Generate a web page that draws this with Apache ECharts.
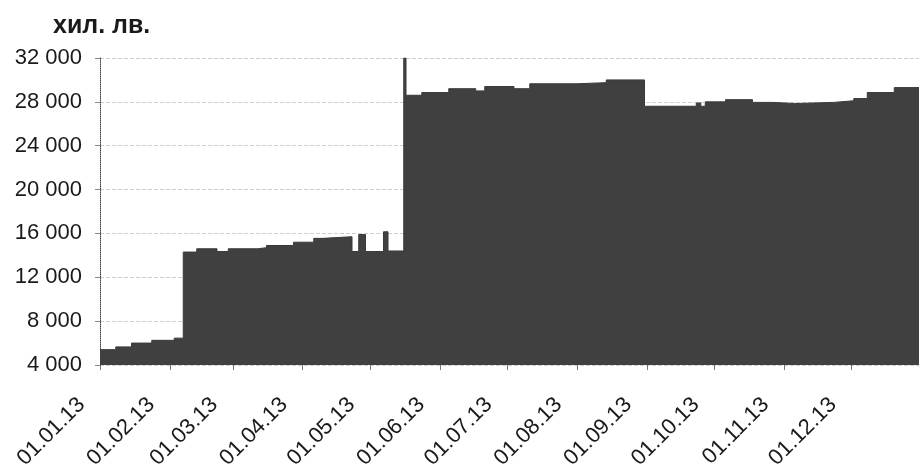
<!DOCTYPE html>
<html>
<head>
<meta charset="utf-8">
<script src="https://cdn.jsdelivr.net/npm/echarts@6/dist/echarts.min.js"></script>
<style>
  html, body { margin: 0; padding: 0; background: #fff; }
  #chart { width: 919px; height: 473px; }
</style>
</head>
<body>
<div id="chart"></div>
<script>
// дати на промяна на стойността (стъпки)
const dates = [
  '2013-01-01', '2013-01-08', '2013-01-15', '2013-01-24', '2013-02-03',
  '2013-02-07', '2013-02-13', '2013-02-22', '2013-02-27', '2013-03-12',
  '2013-03-16', '2013-03-28', '2013-04-06', '2013-04-10', '2013-04-23',
  '2013-04-26', '2013-04-29', '2013-05-07', '2013-05-09', '2013-05-16',
  '2013-05-17', '2013-05-24', '2013-06-05', '2013-06-17', '2013-06-21',
  '2013-07-04', '2013-07-11', '2013-08-01', '2013-08-14', '2013-08-31',
  '2013-09-23', '2013-09-25', '2013-09-27', '2013-10-06', '2013-10-18',
  '2013-10-27', '2013-11-06', '2013-11-23', '2013-12-02', '2013-12-08',
  '2013-12-20', '2013-12-31'
];

// хил. лв.
const values = [
  5400, 5650, 6000, 6250, 6450,
  14300, 14600, 14350, 14600, 14700,
  14900, 15200, 15550, 15700, 14350,
  15900, 14350, 16150, 14400, 32000,
  28600, 28850, 29200, 29000, 29400,
  29200, 29650, 29750, 30000, 27600,
  27900, 27600, 28000, 28200, 27950,
  27850, 27950, 28100, 28300, 28850,
  29300, 29300
];

const yTicks = [4000, 8000, 12000, 16000, 20000, 24000, 28000, 32000];

function fmtThousands(v) {
  return String(v).replace(/\B(?=(\d{3})+(?!\d))/g, ' ');
}

const seriesData = dates.map((d, i) => [d, values[i]]);

const option = {
  animation: false,
  textStyle: { fontFamily: 'Liberation Sans, Arial, sans-serif' },
  title: {
    text: 'хил. лв.',
    left: 48,
    top: 9,
    textStyle: {
      fontFamily: 'Liberation Sans, Arial, sans-serif',
      fontSize: 25,
      fontWeight: 'bold',
      color: '#1a1a1a'
    }
  },
  grid: {
    left: 100,
    right: -6,
    top: 58,
    bottom: 108,
    containLabel: false
  },
  xAxis: {
    type: 'time',
    min: '2013-01-01',
    max: '2013-12-31',
    splitNumber: 12,
    axisLine: { show: false },
    axisTick: {
      show: true,
      length: 5,
      lineStyle: { color: '#777', width: 1 }
    },
    splitLine: { show: false },
    axisLabel: {
      rotate: 45,
      margin: 18,
      padding: [0, 26, 0, 0],
      fontSize: 22,
      color: '#1a1a1a',
      hideOverlap: false,
      formatter: '{dd}.{MM}.{yy}'
    }
  },
  yAxis: {
    type: 'value',
    min: yTicks[0],
    max: yTicks[yTicks.length - 1],
    interval: 4000,
    axisLine: {
      show: true,
      lineStyle: { color: '#444', type: 'dotted', width: 1 }
    },
    axisTick: {
      show: true,
      length: 5,
      lineStyle: { color: '#888' }
    },
    axisLabel: {
      margin: 18,
      fontSize: 22,
      color: '#1a1a1a',
      formatter: fmtThousands
    },
    splitLine: {
      show: true,
      lineStyle: { color: '#cfcfcf', type: 'dashed', width: 1 }
    }
  },
  series: [{
    type: 'line',
    step: 'end',
    symbol: 'none',
    data: seriesData,
    lineStyle: { color: '#3a3a3a', width: 1 },
    areaStyle: { color: '#404040', opacity: 1, origin: 'start' }
  }]
};

const chart = echarts.init(document.getElementById('chart'));
chart.setOption(option);
</script>
</body>
</html>
